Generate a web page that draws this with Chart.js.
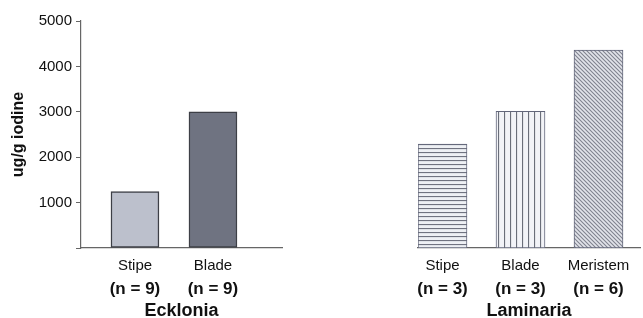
<!DOCTYPE html>
<html><head><meta charset="utf-8">
<script src="https://cdn.jsdelivr.net/npm/chart.js@4/dist/chart.umd.min.js"></script>
<style>
html,body{margin:0;padding:0;background:#fff;width:643px;height:318px;overflow:hidden}
#l{position:absolute;left:0;top:0}
#r{position:absolute;left:300px;top:0}
</style></head><body>
<canvas id="l" width="300" height="318"></canvas>
<canvas id="r" width="343" height="318"></canvas>
<script>
// ---- data ----
const yTickStep = 1000;
const yMax = 5000;
const yAxisTitle = 'ug/g iodine';
const ecklTissues = ['Stipe', 'Blade'];
const ecklCounts = ['(n = 9)', '(n = 9)'];
const ecklIodine = [1240, 3000];
const lamTissues = ['Stipe', 'Blade', 'Meristem'];
const lamCounts = ['(n = 3)', '(n = 3)', '(n = 6)'];
const lamIodine = [2290, 3010, 4360];
const genusNames = ['Ecklonia', 'Laminaria'];

// ---- styles ----
const FONT = "'Liberation Sans', Arial, Helvetica, sans-serif";
const TXT = '#111';
const AXIS = '#666';

function pattern(kind) {
  const c = document.createElement('canvas');
  const g = c.getContext('2d');
  if (kind === 'h') {
    c.width = 4; c.height = 4;
    g.fillStyle = '#eef0f4'; g.fillRect(0, 0, 4, 4);
    g.fillStyle = '#707380'; g.fillRect(0, 0, 4, 1.1);
  } else if (kind === 'v') {
    c.width = 6; c.height = 4;
    g.fillStyle = '#f2f3f7'; g.fillRect(0, 0, 6, 4);
    g.fillStyle = '#6a6e79'; g.fillRect(0, 0, 1.1, 4);
  } else {
    c.width = 4; c.height = 4;
    g.fillStyle = '#e2e4ea'; g.fillRect(0, 0, 4, 4);
    g.strokeStyle = '#80838f'; g.lineWidth = 1.1;
    g.beginPath();
    g.moveTo(-1, -1); g.lineTo(5, 5);
    g.moveTo(3, -1); g.lineTo(5, 1);
    g.moveTo(-1, 3); g.lineTo(1, 5);
    g.stroke();
  }
  return g.createPattern(c, 'repeat');
}

// one tick per category (category i sits at value i + 1)
function categoryTicks(cats) {
  return (s) => { s.ticks = cats.map((_, i) => ({ value: i + 1 })); };
}

function xScales(tissues, counts, genus, min, max) {
  const lab = arr => v => arr[Math.round(v) - 1];
  return {
    x: {
      type: 'linear', position: 'bottom', min, max, weight: 1, offset: false,
      grid: { display: false, drawTicks: false, offset: false },
      border: { display: true, color: AXIS, width: 1.2 },
      ticks: { stepSize: 1, autoSkip: false, maxRotation: 0, padding: 9, color: TXT,
               font: { family: FONT, size: 15 }, callback: lab(tissues) },
      afterBuildTicks: categoryTicks(tissues),
      afterFit: s => { s.height = 27; s.paddingLeft = 0; s.paddingRight = 0; }
    },
    x2: {
      type: 'linear', position: 'bottom', min, max, weight: 2, offset: false,
      grid: { display: false, drawTicks: false, offset: false },
      border: { display: false },
      ticks: { stepSize: 1, autoSkip: false, maxRotation: 0, padding: 4, color: TXT,
               font: { family: FONT, size: 17, weight: 'bold' }, callback: lab(counts) },
      afterBuildTicks: categoryTicks(counts),
      title: { display: true, text: genus, color: TXT, padding: { top: 0, bottom: 0 },
               font: { family: FONT, size: 18, weight: 'bold', lineHeight: 1 } },
      afterFit: s => { s.height = 45; s.paddingLeft = 0; s.paddingRight = 0; }
    }
  };
}

function pts(vals) { return vals.map((v, i) => ({ x: i + 1, y: v })); }

const common = {
  responsive: false, animation: false, devicePixelRatio: 1,
  plugins: { legend: { display: false }, tooltip: { enabled: false } }
};

// ---- Ecklonia ----
new Chart(document.getElementById('l'), {
  type: 'bar',
  data: { datasets: [{
    data: pts(ecklIodine), xAxisID: 'x', yAxisID: 'y',
    backgroundColor: ['#bcc0cc', '#6f7381'],
    borderColor: '#3d3f46', borderWidth: 1.5, borderSkipped: false, barThickness: 48
  }]},
  options: Object.assign({}, common, {
    layout: { padding: { left: 0, top: 21, right: 18, bottom: -2 } },
    scales: Object.assign(xScales(ecklTissues, ecklCounts, genusNames[0], 0.308, 2.885), {
      y: {
        min: 0, max: yMax,
        grid: { drawOnChartArea: false, drawTicks: true, tickLength: 5, color: AXIS, lineWidth: 1 },
        border: { display: true, color: AXIS, width: 1.2 },
        ticks: { stepSize: yTickStep, padding: 4, color: TXT, font: { family: FONT, size: 15 },
                 callback: v => v === 0 ? '' : String(v) },
        title: { display: true, text: yAxisTitle, color: TXT, padding: { top: 9, bottom: 9 },
                 font: { family: FONT, size: 16, weight: 'bold' } },
        afterFit: s => { s.width = 81; s.paddingTop = 0; s.paddingBottom = 0; }
      }
    })
  })
});

// ---- Laminaria ----
new Chart(document.getElementById('r'), {
  type: 'bar',
  data: { datasets: [{
    data: pts(lamIodine), xAxisID: 'x', yAxisID: 'y',
    backgroundColor: [pattern('h'), pattern('v'), pattern('d')],
    borderColor: '#62667a', borderWidth: 1, borderSkipped: false, barThickness: 49
  }]},
  options: Object.assign({}, common, {
    layout: { padding: { left: 118, top: 21, right: 3, bottom: -2 } },
    scales: Object.assign(xScales(lamTissues, lamCounts, genusNames[1], 0.686, 3.532), {
      y: { display: false, min: 0, max: yMax }
    })
  })
});
</script>
</body></html>
